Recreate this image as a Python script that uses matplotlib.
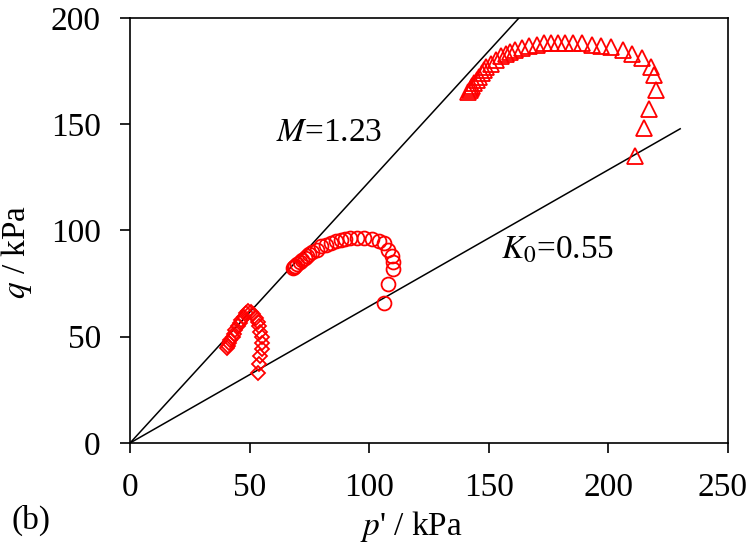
import matplotlib
matplotlib.use('Agg')

import numpy as np
import matplotlib.pyplot as plt
from matplotlib.transforms import ScaledTranslation

# Stress path data (p', q) in kPa
p_diamond = [53.5, 54, 54.5, 55, 55, 55, 54.5, 54, 53.5, 52.5, 51.5, 50.5, 49.5,
             48.5, 47.5, 46.5, 46, 45, 44, 43.5, 43, 42, 41.5, 41, 40.5]
q_diamond = [33, 37, 41, 44, 47, 50, 52, 55, 57, 59, 60.5, 61.5, 62,
             61, 59.5, 58, 56.5, 55, 53, 51.5, 50, 48.5, 47, 45.5, 44.5]

p_circle = [106, 108, 110, 110, 109.5, 108, 106, 104, 101, 98, 95, 92, 90, 88, 86,
            84, 82, 80, 78, 76, 75, 74, 73, 72, 71, 70, 69, 68.5, 68]
q_circle = [66, 75, 82, 85, 88, 91, 94, 95, 96, 96.5, 96.5, 96.5, 96, 95.5, 95,
            94, 93, 92.5, 91, 90, 89, 88, 87, 86, 85, 84, 83.5, 83, 82.5]

p_tri = [211, 215, 217, 220, 219, 218, 214, 210, 206, 201, 197, 193, 189, 185, 182,
         179, 176, 173, 170, 167, 164, 161, 159, 157, 155, 153, 151, 149, 148, 147,
         146, 145, 144, 143, 142.5, 142, 141.5]
q_tri = [135, 148, 157, 166, 173, 177, 181, 183, 185, 186.5, 187, 187.5, 188, 188, 188,
         188, 188, 188, 187.5, 187, 186, 185, 184, 183, 182, 180, 178.5, 177, 175.5, 174,
         172, 171, 169.5, 168, 167, 166, 165]

# Reference lines
M = 1.23
K0 = 0.55
eta_k0 = 3 * (1 - K0) / (1 + 2 * K0)
p_M = [0, 200 / M]
p_K0 = [0, 230]

plt.rcParams['font.family'] = ['Liberation Serif', 'DejaVu Serif']
plt.rcParams['mathtext.fontset'] = 'stix'

fs = 24

fig = plt.figure(figsize=(7.49, 5.48), dpi=100)
ax = fig.add_axes([0.1736, 0.1916, 0.7984, 0.7756])

ax.plot(p_M, [M * p for p in p_M], color='black', linewidth=1.1)
ax.plot(p_K0, [eta_k0 * p for p in p_K0], color='black', linewidth=1.1)

red = '#ff0000'
ax.plot(p_diamond, q_diamond, linestyle='none', marker='D', markersize=7.5,
        markerfacecolor='none', markeredgecolor=red, markeredgewidth=1.3)
ax.plot(p_circle, q_circle, linestyle='none', marker='o', markersize=10,
        markerfacecolor='none', markeredgecolor=red, markeredgewidth=1.3)
ax.plot(p_tri, q_tri, linestyle='none', marker='^', markersize=11.5,
        markerfacecolor='none', markeredgecolor=red, markeredgewidth=1.3)

ax.set_xlim(0, 250)
ax.set_ylim(0, 200)
ax.set_xticks([0, 50, 100, 150, 200, 250])
ax.set_yticks([0, 50, 100, 150, 200])
ax.tick_params(axis='x', direction='out', length=7, width=1.2, labelsize=fs, pad=14)
ax.tick_params(axis='y', direction='out', length=7, width=1.2, labelsize=fs, pad=14)
for s in ax.spines.values():
    s.set_linewidth(1.2)

# keep the last x label inside the figure
last = ax.get_xticklabels()[-1]
last.set_transform(last.get_transform() + ScaledTranslation(-6 / 100, 0, fig.dpi_scale_trans))

ax.set_xlabel("$p$' / kPa", fontsize=fs)
ax.set_ylabel("$q$ / kPa", fontsize=fs)
ax.xaxis.set_label_coords(0.47, -0.155)
ax.yaxis.set_label_coords(-0.16, 0.45)

ax.text(61, 142, "$M$=1.23", fontsize=fs, ha='left', va='baseline')
ax.text(155, 87, "$K_0$=0.55", fontsize=fs, ha='left', va='baseline')
fig.text(0.015, 0.035, "(b)", fontsize=fs, ha='left', va='baseline')

plt.savefig("out.png", dpi=100)
